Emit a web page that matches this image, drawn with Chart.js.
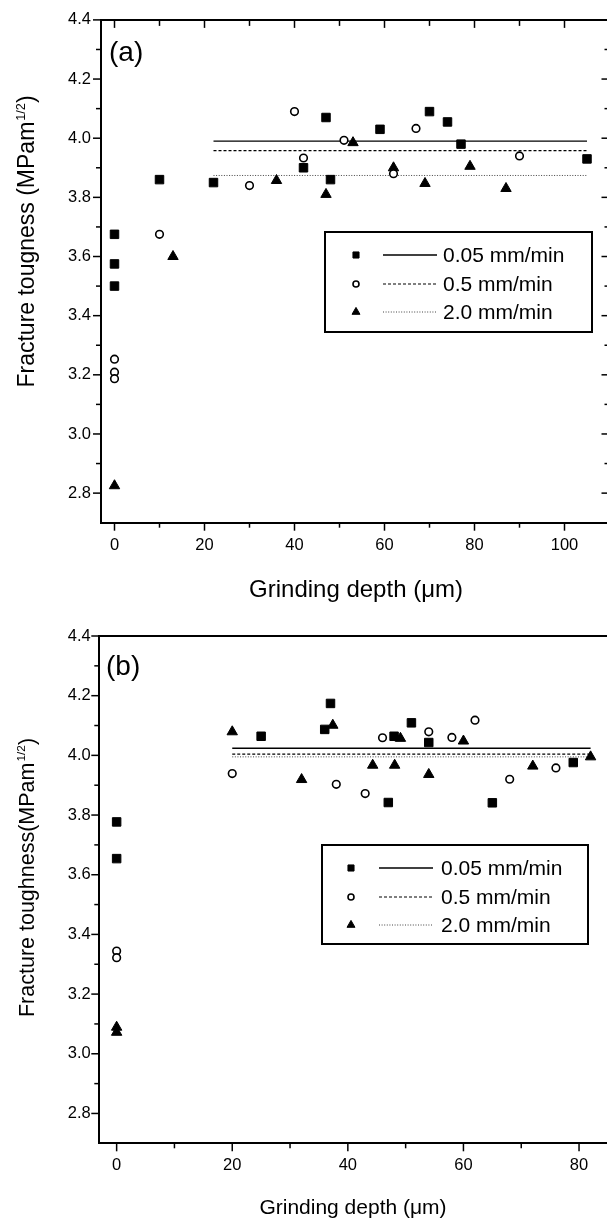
<!DOCTYPE html>
<html>
<head>
<meta charset="utf-8">
<script src="https://cdn.jsdelivr.net/npm/chart.js@4.4.0/dist/chart.umd.min.js"></script>
<style>
  html, body { margin: 0; padding: 0; background: #fff; overflow: hidden; }
  body { width: 607px; height: 1223px; position: relative; }
  canvas { position: absolute; left: 0; }
  #chartA { top: 0; }
  #chartB { top: 612px; }
</style>
</head>
<body>
<canvas id="chartA" width="625" height="612"></canvas>
<canvas id="chartB" width="630" height="611"></canvas>
<script>
const seriesLabels = ['0.05 mm/min', '0.5 mm/min', '2.0 mm/min'];

// panel (a)
const xTicksA = [0, 20, 40, 60, 80, 100];
const yTicksA = [2.8, 3.0, 3.2, 3.4, 3.6, 3.8, 4.0, 4.2, 4.4];
const sqXA = [0, 0, 0, 10, 22, 42, 47, 48, 59, 70, 74, 77, 105];
const sqYA = [3.675, 3.575, 3.50, 3.86, 3.85, 3.90, 4.07, 3.86, 4.03, 4.09, 4.055, 3.98, 3.93];
const ciXA = [0, 0, 0, 10, 30, 40, 42, 51, 62, 67, 90];
const ciYA = [3.253, 3.209, 3.187, 3.675, 3.84, 4.09, 3.933, 3.993, 3.88, 4.033, 3.94];
const trXA = [0, 13, 36, 47, 53, 62, 69, 79, 87];
const trYA = [2.825, 3.60, 3.857, 3.81, 3.985, 3.90, 3.847, 3.905, 3.83];
const meanXA = [22, 105];
const meanA = [3.99, 3.958, 3.874];

// panel (b)
const xTicksB = [0, 20, 40, 60, 80];
const yTicksB = [2.8, 3.0, 3.2, 3.4, 3.6, 3.8, 4.0, 4.2, 4.4];
const sqXB = [0, 0, 25, 36, 37, 47, 48, 51, 54, 65, 79];
const sqYB = [3.777, 3.654, 4.064, 4.087, 4.174, 3.842, 4.064, 4.109, 4.043, 3.841, 3.976];
const ciXB = [0, 0, 20, 38, 43, 46, 54, 58, 62, 68, 76];
const ciYB = [3.344, 3.322, 3.939, 3.903, 3.872, 4.059, 4.079, 4.06, 4.118, 3.92, 3.958];
const trXB = [0, 0, 20, 32, 37.4, 44.3, 48.1, 49.1, 54, 60, 72, 82];
const trYB = [3.089, 3.072, 4.079, 3.919, 4.101, 3.967, 3.967, 4.057, 3.936, 4.048, 3.964, 3.995];
const meanXB = [20, 82];
const meanB = [4.024, 4.004, 3.995];

const FONT = '"Liberation Sans", Arial, Helvetica, sans-serif';
Chart.defaults.font.family = FONT;
Chart.defaults.color = '#000';

const zip = (xs, ys) => xs.map((x, i) => ({ x, y: ys[i] }));

// frame, ticks, titles, legend, panel label
const framePlugin = {
  id: 'frame',
  afterDraw(chart, args, o) {
    const { ctx, chartArea: a, scales: { x, y } } = chart;
    ctx.save();
    ctx.strokeStyle = '#000';
    ctx.fillStyle = '#000';

    // top / right border
    ctx.lineWidth = 2;
    ctx.beginPath();
    ctx.moveTo(a.left - 1, a.top);
    ctx.lineTo(a.right, a.top);
    ctx.lineTo(a.right, a.bottom);
    ctx.stroke();

    // ticks
    ctx.lineWidth = 1.5;
    const xt = o.xTicks, yt = o.yTicks;
    const xs = xt[1] - xt[0], ys = yt[1] - yt[0];
    const line = (x1, y1, x2, y2) => { ctx.beginPath(); ctx.moveTo(x1, y1); ctx.lineTo(x2, y2); ctx.stroke(); };
    const xMinor = xt.map(v => v + xs / 2).concat([xt[0] - xs / 2]).filter(v => v > x.min && v < x.max);
    const yMinor = yt.map(v => v - ys / 2).filter(v => v > y.min && v < y.max);
    xt.forEach(v => {
      const px = x.getPixelForValue(v);
      line(px, a.bottom, px, a.bottom + 8);
      if (o.innerTicks) line(px, a.top, px, a.top + 8);
    });
    xMinor.forEach(v => {
      const px = x.getPixelForValue(v);
      line(px, a.bottom, px, a.bottom + 5);
      if (o.innerTicks) line(px, a.top, px, a.top + 6);
    });
    yt.forEach(v => {
      const py = y.getPixelForValue(v);
      line(a.left, py, a.left - 8, py);
      if (o.innerTicks) line(a.right, py, a.right - 8, py);
    });
    yMinor.forEach(v => {
      const py = y.getPixelForValue(v);
      line(a.left, py, a.left - 5, py);
      if (o.innerTicks) line(a.right, py, a.right - 5, py);
    });

    // x title
    ctx.font = o.xTitleSize + 'px ' + FONT;
    ctx.textAlign = 'center';
    ctx.textBaseline = 'middle';
    ctx.fillText('Grinding depth (\u03bcm)', o.xTitleX, o.xTitleY);

    // y title with superscript
    ctx.save();
    ctx.translate(o.yTitleX, o.yTitleY);
    ctx.rotate(-Math.PI / 2);
    const s = o.yTitleSize;
    ctx.textAlign = 'left';
    ctx.textBaseline = 'alphabetic';
    ctx.font = s + 'px ' + FONT;
    const w1 = ctx.measureText(o.yTitle).width;
    const w3 = ctx.measureText(')').width;
    ctx.font = (s * 0.55) + 'px ' + FONT;
    const w2 = ctx.measureText('1/2').width;
    let cx = -(w1 + w2 + w3) / 2;
    const base = s * 0.36;
    ctx.font = s + 'px ' + FONT;
    ctx.fillText(o.yTitle, cx, base);
    cx += w1;
    ctx.font = (s * 0.55) + 'px ' + FONT;
    ctx.fillText('1/2', cx + 1, base - s * 0.42);
    cx += w2 + 1;
    ctx.font = s + 'px ' + FONT;
    ctx.fillText(')', cx, base);
    ctx.restore();

    // panel label
    ctx.font = o.panelSize + 'px ' + FONT;
    ctx.textAlign = 'left';
    ctx.textBaseline = 'middle';
    ctx.fillText(o.panel, o.panelX, o.panelY);

    // legend
    const L = o.legend;
    ctx.fillStyle = '#fff';
    ctx.fillRect(L.left, L.top, L.width, L.height);
    ctx.lineWidth = 2;
    ctx.strokeStyle = '#000';
    ctx.strokeRect(L.left, L.top, L.width, L.height);
    const ds = chart.data.datasets;
    for (let i = 0; i < 3; i++) {
      const mk = ds[i], ln = ds[i + 3];
      const ry = L.top + L.rows[i];
      ctx.fillStyle = mk.backgroundColor;
      ctx.strokeStyle = mk.borderColor;
      ctx.lineWidth = mk.borderWidth;
      Chart.helpers.drawPoint(ctx, {
        pointStyle: mk.pointStyle, radius: L.markR[i], borderWidth: mk.borderWidth, rotation: 0
      }, L.left + L.markX, ry);
      ctx.strokeStyle = ln.borderColor;
      ctx.lineWidth = ln.borderWidth;
      ctx.setLineDash(ln.borderDash || []);
      line(L.left + L.lineX0, ry, L.left + L.lineX1, ry);
      ctx.setLineDash([]);
      ctx.fillStyle = '#000';
      ctx.font = L.size + 'px ' + FONT;
      ctx.textAlign = 'left';
      ctx.textBaseline = 'middle';
      ctx.fillText(seriesLabels[i], L.left + L.textX, ry + 1);
    }
    ctx.restore();
  }
};

function makeDatasets(sq, ci, tr, meanX, means) {
  return [
    { label: seriesLabels[0], data: sq, pointStyle: 'rect', pointRadius: 6, borderWidth: 1,
      backgroundColor: '#000', borderColor: '#000' },
    { label: seriesLabels[1], data: ci, pointStyle: 'circle', pointRadius: 3.8, borderWidth: 1.6,
      backgroundColor: '#fff', borderColor: '#000' },
    { label: seriesLabels[2], data: tr, pointStyle: 'triangle', pointRadius: 6, borderWidth: 1,
      backgroundColor: '#000', borderColor: '#000' },
    { data: zip(meanX, [means[0], means[0]]), showLine: true, pointRadius: 0, borderWidth: 1.4,
      borderColor: '#000', borderDash: [] },
    { data: zip(meanX, [means[1], means[1]]), showLine: true, pointRadius: 0, borderWidth: 1.1,
      borderColor: '#000', borderDash: [3, 2] },
    { data: zip(meanX, [means[2], means[2]]), showLine: true, pointRadius: 0, borderWidth: 1,
      borderColor: '#444', borderDash: [1, 1.6] }
  ];
}

function makeChart(id, p) {
  return new Chart(document.getElementById(id), {
    type: 'scatter',
    data: { datasets: makeDatasets(p.sq, p.ci, p.tr, p.meanX, p.means) },
    options: {
      responsive: false,
      animation: false,
      layout: { padding: p.pad },
      plugins: { legend: { display: false }, tooltip: { enabled: false }, frame: p.frame },
      scales: {
        x: {
          type: 'linear', min: p.xMin, max: p.xMax,
          grid: { display: false, drawTicks: false },
          border: { display: true, width: 2, color: '#000' },
          ticks: { font: { size: 16.5 }, color: '#000', padding: p.xPad, maxRotation: 0, autoSkip: false,
            callback: v => String(v) },
          afterBuildTicks: s => { s.ticks = p.xTicks.map(v => ({ value: v })); },
          afterFit: s => { s.height = p.xH; }
        },
        y: {
          type: 'linear', min: 2.7, max: 4.4,
          grid: { display: false, drawTicks: false },
          border: { display: true, width: 2, color: '#000' },
          ticks: { font: { size: 16.5 }, color: '#000', padding: p.yPad, autoSkip: false,
            callback: v => Number(v).toFixed(1) },
          afterBuildTicks: s => { s.ticks = p.yTicks.map(v => ({ value: v })); },
          afterFit: s => { s.width = p.yW; }
        }
      }
    },
    plugins: [framePlugin]
  });
}

makeChart('chartA', {
  sq: zip(sqXA, sqYA), ci: zip(ciXA, ciYA), tr: zip(trXA, trYA),
  meanX: meanXA, means: meanA, xTicks: xTicksA, yTicks: yTicksA,
  xMin: -3, xMax: 110, pad: { left: 0, top: 15.5, right: 15.5, bottom: 0 },
  xH: 89.3, yW: 101, xPad: 13, yPad: 10,
  frame: {
    xTicks: xTicksA, yTicks: yTicksA, innerTicks: true,
    xTitleX: 356, xTitleY: 590, xTitleSize: 24,
    yTitle: 'Fracture tougness (MPam', yTitleX: 26, yTitleY: 242, yTitleSize: 23,
    panel: '(a)', panelX: 109, panelY: 53, panelSize: 28,
    legend: { left: 325, top: 232, width: 267, height: 100, rows: [23, 52, 80],
      markR: [4.3, 3, 4.6], markX: 31, lineX0: 58, lineX1: 112, textX: 118, size: 21 }
  }
});

makeChart('chartB', {
  sq: zip(sqXB, sqYB), ci: zip(ciXB, ciYB), tr: zip(trXB, trYB),
  meanX: meanXB, means: meanB, xTicks: xTicksB, yTicks: yTicksB,
  xMin: -3, xMax: 87, pad: { left: 0, top: 24, right: 10.5, bottom: 0 },
  xH: 79.7, yW: 99.3, xPad: 12.5, yPad: 8.5,
  frame: {
    xTicks: xTicksB, yTicks: yTicksB, innerTicks: false,
    xTitleX: 353, xTitleY: 596, xTitleSize: 21,
    yTitle: 'Fracture toughness(MPam', yTitleX: 26, yTitleY: 266, yTitleSize: 21.5,
    panel: '(b)', panelX: 106, panelY: 55, panelSize: 28,
    legend: { left: 322, top: 233, width: 266, height: 99, rows: [23, 52, 80],
      markR: [4.3, 3, 4.6], markX: 29, lineX0: 57, lineX1: 111, textX: 119, size: 21 }
  }
});
</script>
</body>
</html>
